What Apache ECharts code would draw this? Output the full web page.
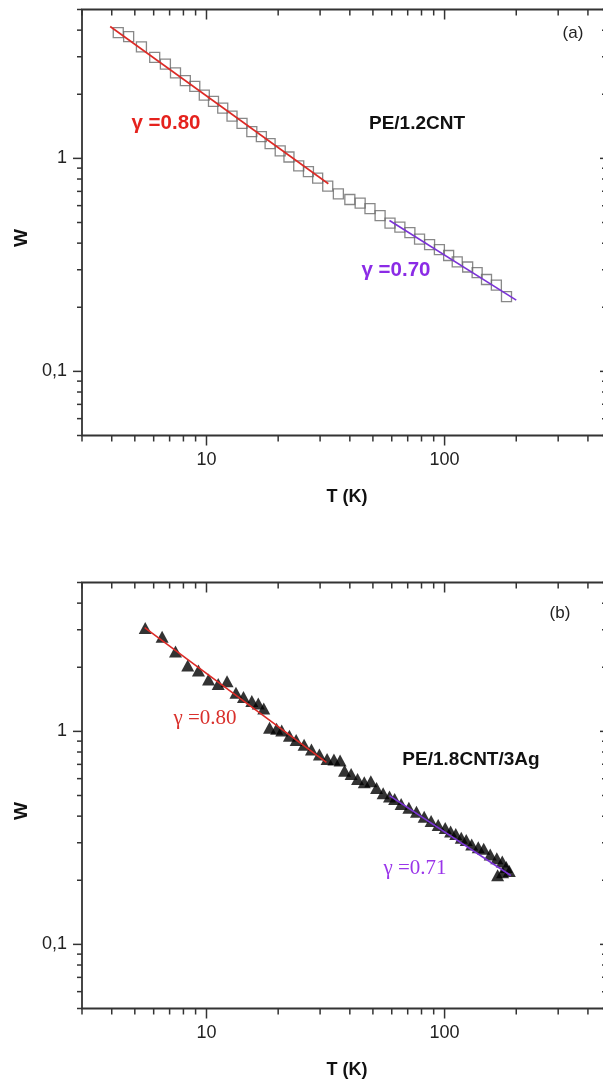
<!DOCTYPE html>
<html>
<head>
<meta charset="utf-8">
<script src="https://cdn.jsdelivr.net/npm/echarts/dist/echarts.min.js"></script>
<style>
html,body{margin:0;padding:0;background:#fff;}
#chart{width:603px;height:1080px;}
</style>
</head>
<body>
<div id="chart"></div>
<script>
// ---------- data ----------
// Panel (a): PE/1.2CNT, open squares
const tempA = [4.26, 4.71, 5.33, 6.06, 6.72, 7.41, 8.15, 8.93, 9.79, 10.7, 11.7, 12.8, 14.1, 15.5, 17.0, 18.5, 20.4, 22.2, 24.4, 26.8, 29.3, 32.3, 35.8, 40.0, 44.2, 48.6, 53.6, 59.0, 64.9, 71.5, 78.5, 86.5, 95.1, 104, 113, 125, 137, 150, 165, 182];
const wA = [3.89, 3.73, 3.34, 2.98, 2.77, 2.52, 2.32, 2.18, 1.98, 1.85, 1.72, 1.58, 1.46, 1.335, 1.265, 1.174, 1.085, 1.015, 0.922, 0.866, 0.807, 0.741, 0.681, 0.641, 0.617, 0.581, 0.538, 0.497, 0.476, 0.448, 0.418, 0.394, 0.373, 0.350, 0.327, 0.309, 0.291, 0.270, 0.254, 0.2245];
const fitA1T = [3.94, 32.5];
const fitA1W = [4.16, 0.76];
const fitA2T = [58.7, 200];
const fitA2W = [0.511, 0.216];

// Panel (b): PE/1.8CNT/3Ag, filled triangles
const tempB = [5.53, 6.51, 7.41, 8.34, 9.25, 10.2, 11.2, 12.2, 13.3, 14.3, 15.5, 16.5, 17.4, 18.4, 19.7, 20.7, 22.3, 23.8, 25.7, 27.6, 29.8, 32.1, 34.3, 36.4, 38.0, 40.5, 43.1, 46.0, 49.0, 51.8, 55.2, 58.7, 61.7, 65.7, 70.8, 76.2, 82.1, 87.8, 94.0, 100.6, 106, 111.4, 117.5, 123.3, 130, 138.5, 146, 155.5, 165.7, 174.7, 181.6, 187, 175.2, 167];
const wB = [3.06, 2.78, 2.37, 2.04, 1.93, 1.75, 1.67, 1.72, 1.52, 1.45, 1.39, 1.35, 1.28, 1.04, 1.03, 1.01, 0.955, 0.911, 0.866, 0.823, 0.778, 0.741, 0.737, 0.729, 0.654, 0.631, 0.598, 0.577, 0.584, 0.542, 0.513, 0.494, 0.481, 0.456, 0.438, 0.419, 0.397, 0.380, 0.363, 0.352, 0.339, 0.330, 0.317, 0.309, 0.294, 0.286, 0.281, 0.264, 0.254, 0.245, 0.231, 0.221, 0.218, 0.211];
const fitB1T = [5.50, 31.9];
const fitB1W = [3.07, 0.716];
const fitB2T = [58.7, 189.7];
const fitB2W = [0.4995, 0.2106];

// axes
const xRange = [3, 500];
const yRange = [0.05, 5];
const xMajor = [10, 100];
const xMajorLabels = ['10', '100'];
const xMinor = [3, 4, 5, 6, 7, 8, 9, 20, 30, 40, 50, 60, 70, 80, 90, 200, 300, 400];
const yMajor = [0.1, 1];
const yMajorLabels = ['0,1', '1'];
const yMinor = [0.05, 0.06, 0.07, 0.08, 0.09, 0.2, 0.3, 0.4, 0.5, 0.6, 0.7, 0.8, 0.9, 2, 3, 4, 5];

// ---------- helpers ----------
const zip = (a, b) => a.map((v, i) => [v, b[i]]);
const AX = '#333';
function labelFor(vals, texts) {
  return function (v) {
    for (let i = 0; i < vals.length; i++) {
      if (Math.abs(v - vals[i]) / vals[i] < 1e-6) return texts[i];
    }
    return '';
  };
}
function xTickSeries(idx) {
  const data = xMajor.map(v => [v, 1, 1]).concat(xMinor.map(v => [v, 1, 0]));
  return {
    type: 'custom', xAxisIndex: idx, yAxisIndex: idx, silent: true, z: 5, clip: false,
    encode: { x: 0, y: 1 },
    data: data,
    renderItem: function (params, api) {
      const cs = params.coordSys;
      const x = api.coord([api.value(0), 1])[0];
      const maj = api.value(2) === 1;
      const lb = maj ? 10 : 6;
      const lt = maj ? 10 : 6;
      const st = { stroke: AX, lineWidth: 1.5 };
      return { type: 'group', children: [
        { type: 'line', shape: { x1: x, y1: cs.y + cs.height, x2: x, y2: cs.y + cs.height + lb }, style: st },
        { type: 'line', shape: { x1: x, y1: cs.y, x2: x, y2: cs.y + lt }, style: st }
      ]};
    }
  };
}
function yTickSeries(idx) {
  const data = yMajor.map(v => [10, v, 1]).concat(yMinor.map(v => [10, v, 0]));
  return {
    type: 'custom', xAxisIndex: idx, yAxisIndex: idx, silent: true, z: 5, clip: false,
    encode: { x: 0, y: 1 },
    data: data,
    renderItem: function (params, api) {
      const cs = params.coordSys;
      const y = api.coord([10, api.value(1)])[1];
      const maj = api.value(2) === 1;
      const l = maj ? 9 : 5;
      const r = maj ? 11 : 9;
      const st = { stroke: AX, lineWidth: 1.5 };
      return { type: 'group', children: [
        { type: 'line', shape: { x1: cs.x - l, y1: y, x2: cs.x, y2: y }, style: st },
        { type: 'line', shape: { x1: cs.x + cs.width - r, y1: y, x2: cs.x + cs.width, y2: y }, style: st }
      ]};
    }
  };
}
function xAxisDef(idx) {
  return {
    type: 'log', gridIndex: idx, min: xRange[0], max: xRange[1], logBase: 10,
    axisLine: { show: false }, axisTick: { show: false }, splitLine: { show: false },
    axisLabel: { formatter: labelFor(xMajor, xMajorLabels), margin: 16, fontFamily: 'Liberation Sans', fontSize: 18, color: '#222' }
  };
}
function yAxisDef(idx) {
  return {
    type: 'log', gridIndex: idx, min: yRange[0], max: yRange[1], logBase: 10,
    axisLine: { show: false }, axisTick: { show: false }, splitLine: { show: false },
    axisLabel: { formatter: labelFor(yMajor, yMajorLabels), margin: 15, fontFamily: 'Liberation Sans', fontSize: 18, color: '#222' }
  };
}
function fitLine(idx, T, W, color) {
  return {
    type: 'line', xAxisIndex: idx, yAxisIndex: idx, data: zip(T, W), showSymbol: false, symbol: 'none',
    lineStyle: { color: color, width: 1.6 }, z: 4, silent: true
  };
}
function txt(x, y, text, font, fill, rot) {
  return {
    type: 'text', x: x, y: y, rotation: rot || 0, silent: true,
    style: { text: text, x: 0, y: 0, font: font, fill: fill, textAlign: 'center', textVerticalAlign: 'middle' }
  };
}

const RED = '#dc2a26';
const PURPLE = '#7b33d6';
const BOLD = 'bold 19px "Liberation Sans", Arial, sans-serif';
const GBOLD = 'bold 20.5px "Liberation Sans", Arial, sans-serif';
const SERIF = '21px "Liberation Serif", "Times New Roman", serif';

const chart = echarts.init(document.getElementById('chart'), null, { renderer: 'canvas' });
chart.setOption({
  animation: false,
  backgroundColor: '#fff',
  grid: [
    { left: 82, top: 9.5, width: 529, height: 426, show: true, borderColor: AX, borderWidth: 1.8, containLabel: false, outerBoundsMode: 'none' },
    { left: 82, top: 582.5, width: 529, height: 426, show: true, borderColor: AX, borderWidth: 1.8, containLabel: false, outerBoundsMode: 'none' }
  ],
  xAxis: [xAxisDef(0), xAxisDef(1)],
  yAxis: [yAxisDef(0), yAxisDef(1)],
  series: [
    {
      type: 'scatter', xAxisIndex: 0, yAxisIndex: 0, data: zip(tempA, wA), symbol: 'rect', symbolSize: 10,
      itemStyle: { color: 'rgba(255,255,255,0)', borderColor: '#6a6a6a', borderWidth: 1.3 }, z: 2
    },
    fitLine(0, fitA1T, fitA1W, RED),
    fitLine(0, fitA2T, fitA2W, PURPLE),
    xTickSeries(0), yTickSeries(0),
    {
      type: 'scatter', xAxisIndex: 1, yAxisIndex: 1, data: zip(tempB, wB), symbol: 'triangle', symbolSize: [13, 12],
      itemStyle: { color: '#000' }, z: 2
    },
    fitLine(1, fitB1T, fitB1W, RED),
    fitLine(1, fitB2T, fitB2W, PURPLE),
    xTickSeries(1), yTickSeries(1)
  ],
  graphic: [
    txt(573, 33, '(a)', '17px "Liberation Sans", Arial, sans-serif', '#222'),
    txt(166, 123, 'γ =0.80', GBOLD, '#e5221d'),
    txt(417, 124, 'PE/1.2CNT', BOLD, '#111'),
    txt(396, 270, 'γ =0.70', GBOLD, '#8b2be6'),
    txt(22, 238, 'W', BOLD, '#111', Math.PI / 2),
    txt(347, 497, 'T (K)', 'bold 18px "Liberation Sans", Arial, sans-serif', '#111'),
    txt(560, 613, '(b)', '17px "Liberation Sans", Arial, sans-serif', '#222'),
    txt(205, 718, 'γ =0.80', SERIF, '#d9302c'),
    txt(471, 760, 'PE/1.8CNT/3Ag', BOLD, '#111'),
    txt(415, 868, 'γ =0.71', SERIF, '#9a35ea'),
    txt(22, 811, 'W', BOLD, '#111', Math.PI / 2),
    txt(347, 1070, 'T (K)', 'bold 18px "Liberation Sans", Arial, sans-serif', '#111')
  ]
});
</script>
</body>
</html>
